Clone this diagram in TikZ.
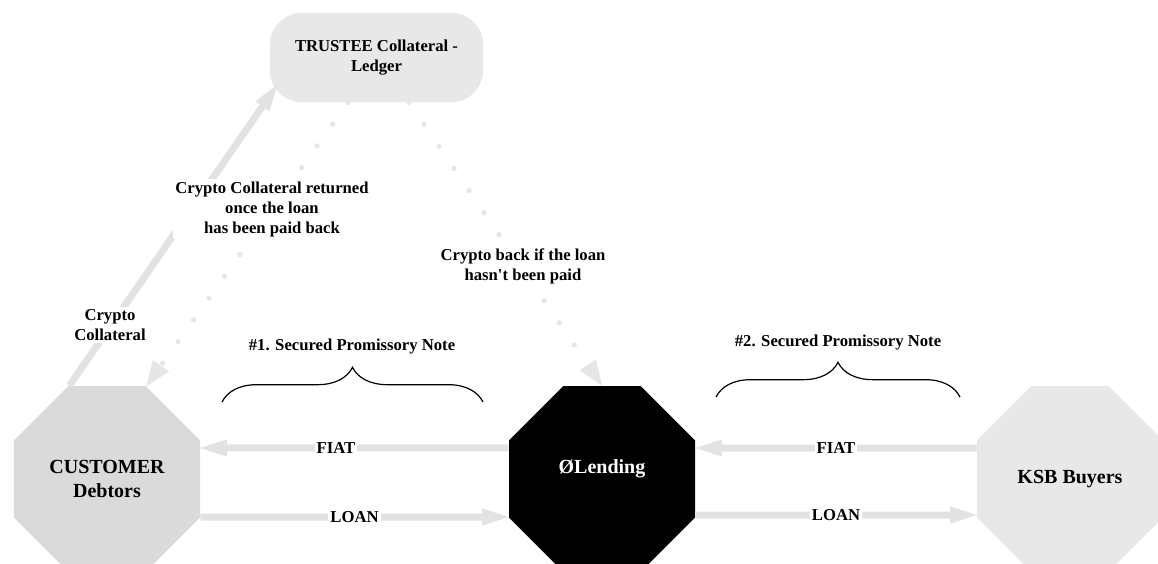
\documentclass[tikz,border=0pt]{standalone}
\usepackage{fontspec}
\setmainfont{Liberation Serif}
\usetikzlibrary{shapes.geometric,arrows.meta,calc,decorations.pathreplacing}
\definecolor{octlight}{HTML}{E8E8E8}
\definecolor{octmid}{HTML}{DADADA}
\definecolor{flowgray}{HTML}{E2E2E2}
\definecolor{dotgray}{HTML}{E6E6E6}

\begin{document}
\begin{tikzpicture}[x=0.75pt,y=-0.75pt,
  party/.style={regular polygon,regular polygon sides=8,minimum size=151pt,inner sep=0pt,
                align=center,font=\fontsize{15}{18}\selectfont\bfseries},
  lbl/.style={fill=white,inner sep=1.5pt,align=center,font=\fontsize{12.5}{15}\selectfont\bfseries},
  flow/.style={draw=flowgray,line width=5.25pt,-{Triangle[length=20pt,width=13pt,line width=0pt]}},
  dotflow/.style={draw=dotgray,line width=4pt,line cap=round,dash pattern=on 0pt off 20pt,
                  -{Triangle[length=19pt,width=15pt,line width=0pt]}},
  brc/.style={draw=black,line width=0.9pt,decorate,decoration={brace,amplitude=26pt}}
]
\useasboundingbox (0,0) rectangle (1158,564);
\clip (0,0) rectangle (1158,564);

\node[party,fill=octmid] (customer) at (107,479) {CUSTOMER\\Debtors};
\node[party,fill=black,text=white] (lending) at (602,479) {ØLending\\\mbox{}};
\node[party,fill=octlight] (buyers) at (1070,479) {KSB Buyers};
\node[fill=octlight,rounded corners=24pt,minimum width=160pt,minimum height=67pt,align=center,
      font=\fontsize{12.5}{15.5}\selectfont\bfseries] (trustee) at (376.5,57.5) {TRUSTEE Collateral -\\Ledger};

% collateral flows
\draw[flow] (customer.112.5) -- ($(trustee.south west)+(8,-18)$);
\draw[dotflow] ($(trustee.south)+(-28.5,0)$) -- (customer.67.5);
\draw[dotflow] ($(trustee.south)+(32.5,0)$) -- (lending.north);

% fiat and loans
\draw[flow] ($(lending.west)+(0,-31)$) -- ($(customer.east)+(0,-31)$) node[lbl,pos=0.56] (fiat1) {FIAT};
\draw[flow] ($(customer.east)+(0,38)$) -- ($(lending.west)+(0,38)$) node[lbl,pos=0.5] (loan1) {LOAN};
\draw[flow] ($(buyers.west)+(0,-31)$) -- ($(lending.east)+(0,-31)$) node[lbl,pos=0.5] (fiat2) {FIAT};
\draw[flow] ($(lending.east)+(0,36)$) -- ($(buyers.west)+(0,36)$) node[lbl,pos=0.5] (loan2) {LOAN};

\node[lbl] (collatlbl) at (110,325) {Crypto\\Collateral};
\node[lbl] (returnlbl) at (272,209) {Crypto Collateral returned\\once the loan\\has been paid back};
\node[lbl] (backlbl) at (523,266) {Crypto back if the loan\\hasn\textquotesingle t been paid};

% notes
\draw[brc] (222,402) -- (483,402);
\node[lbl] (note1) at (352,347) {\#1. Secured Promissory Note};
\draw[brc] (716,397) -- (960,397);
\node[lbl] (note2) at (838,343) {\#2. Secured Promissory Note};
\end{tikzpicture}
\end{document}
